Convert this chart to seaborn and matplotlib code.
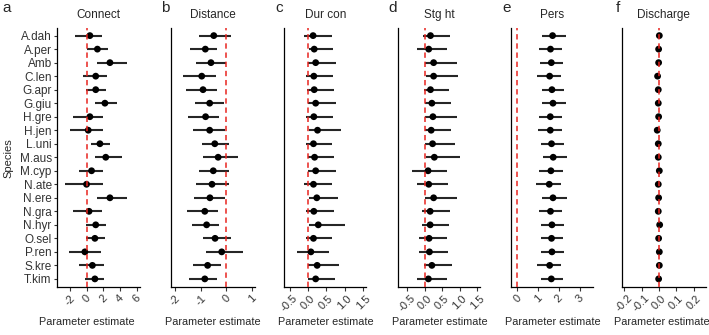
import numpy as np
import pandas as pd
import matplotlib.pyplot as plt
import seaborn as sns

species = ['A.dah', 'A.per', 'Amb', 'C.len', 'G.apr', 'G.giu', 'H.gre', 'H.jen', 'L.uni', 'M.aus',
           'M.cyp', 'N.ate', 'N.ere', 'N.gra', 'N.hyr', 'O.sel', 'P.ren', 'S.kre', 'T.kim']

# estimates and interval ends
connect_est = [0.4, 1.3, 2.8, 1.1, 1.1, 2.2, 0.4, 0.2, 1.6, 2.3, 0.6, 0.0, 2.8, 0.3, 1.1, 1.0, -0.2, 0.7, 1.0]
connect_lo = [-1.4, 0.0, 1.2, -0.4, -0.1, 1.0, -1.6, -2.0, 0.5, 1.0, -0.9, -2.6, 1.2, -1.6, -0.1, -0.1, -2.1, -0.9, -0.2]
connect_hi = [1.9, 2.6, 4.8, 2.4, 2.3, 3.7, 2.0, 2.0, 2.8, 4.2, 2.0, 2.0, 4.8, 1.9, 2.3, 2.2, 1.7, 2.1, 2.1]

distance_est = [-0.49, -0.82, -0.6, -0.96, -0.91, -0.65, -0.81, -0.65, -0.45, -0.32, -0.51, -0.56, -0.64, -0.84, -0.77, -0.44, -0.18, -0.73, -0.84]
distance_lo = [-1.05, -1.42, -1.18, -1.71, -1.58, -1.22, -1.51, -1.29, -0.94, -0.92, -1.06, -1.17, -1.25, -1.55, -1.35, -0.92, -0.79, -1.32, -1.44]
distance_hi = [0.17, -0.35, 0.0, -0.42, -0.38, -0.09, -0.27, -0.06, 0.12, 0.44, 0.12, 0.12, -0.05, -0.32, -0.29, 0.17, 0.64, -0.22, -0.36]

durcon_est = [0.14, 0.17, 0.21, 0.16, 0.17, 0.21, 0.16, 0.26, 0.15, 0.18, 0.21, 0.15, 0.24, 0.16, 0.28, 0.15, 0.08, 0.25, 0.21]
durcon_lo = [-0.12, 0.02, 0.0, -0.05, -0.02, 0.0, -0.06, 0.02, -0.05, 0.0, 0.0, -0.11, 0.02, -0.04, 0.02, -0.05, -0.3, 0.0, 0.0]
durcon_hi = [0.64, 0.68, 0.75, 0.68, 0.7, 0.75, 0.68, 0.91, 0.64, 0.71, 0.75, 0.64, 0.82, 0.71, 1.0, 0.66, 0.57, 0.85, 0.73]

stght_est = [0.16, 0.11, 0.25, 0.25, 0.16, 0.2, 0.23, 0.18, 0.22, 0.27, 0.09, 0.11, 0.25, 0.15, 0.15, 0.12, 0.13, 0.2, 0.1]
stght_lo = [-0.05, -0.22, 0.0, 0.02, -0.02, 0.0, 0.0, 0.0, 0.0, 0.03, -0.36, -0.24, 0.0, -0.09, -0.07, -0.16, -0.17, -0.02, -0.24]
stght_hi = [0.72, 0.62, 0.93, 0.95, 0.7, 0.76, 0.91, 0.76, 0.87, 1.0, 0.62, 0.67, 0.93, 0.72, 0.69, 0.64, 0.67, 0.79, 0.62]

pers_est = [1.7, 1.6, 1.64, 1.56, 1.67, 1.72, 1.59, 1.59, 1.65, 1.73, 1.62, 1.54, 1.72, 1.6, 1.67, 1.65, 1.67, 1.56, 1.64]
pers_lo = [1.17, 1.06, 1.11, 0.96, 1.17, 1.2, 1.03, 1.01, 1.14, 1.22, 1.06, 0.91, 1.2, 1.06, 1.14, 1.14, 1.14, 0.95, 1.12]
pers_hi = [2.33, 2.13, 2.2, 2.1, 2.25, 2.33, 2.17, 2.15, 2.25, 2.38, 2.18, 2.1, 2.38, 2.17, 2.25, 2.22, 2.25, 2.09, 2.2]

discharge_est = [0.002, -0.002, -0.002, -0.008, -0.004, -0.004, -0.002, -0.01, -0.004, -0.004, 0.002, -0.004, -0.002, -0.004, 0.004, -0.002, 0.002, 0.002, -0.002]
discharge_lo = [-0.004, -0.008, -0.008, -0.014, -0.01, -0.01, -0.008, -0.016, -0.01, -0.01, -0.004, -0.01, -0.008, -0.01, -0.002, -0.008, -0.004, -0.004, -0.008]
discharge_hi = [0.008, 0.004, 0.004, -0.002, 0.002, 0.002, 0.004, -0.004, 0.002, 0.002, 0.008, 0.002, 0.004, 0.002, 0.01, 0.004, 0.008, 0.008, 0.004]

letters = ['a', 'b', 'c', 'd', 'e', 'f']
titles = ['Connect', 'Distance', 'Dur con', 'Stg ht', 'Pers', 'Discharge']
ests = [connect_est, distance_est, durcon_est, stght_est, pers_est, discharge_est]
los = [connect_lo, distance_lo, durcon_lo, stght_lo, pers_lo, discharge_lo]
his = [connect_hi, distance_hi, durcon_hi, stght_hi, pers_hi, discharge_hi]
xlims = [(-3.5, 6.4), (-2.16, 1.1), (-0.65, 1.59), (-0.78, 1.58), (-0.3, 3.66), (-0.214, 0.27)]
xticks = [[-2, 0, 2, 4, 6], [-2, -1, 0, 1], [-0.5, 0, 0.5, 1, 1.5], [-0.5, 0, 0.5, 1, 1.5],
          [0, 1, 2, 3], [-0.2, -0.1, 0, 0.1, 0.2]]
xticklabels = [['-2', '0', '2', '4', '6'], ['-2', '-1', '0', '1'],
               ['-0.5', '0.0', '0.5', '1.0', '1.5'], ['-0.5', '0.0', '0.5', '1.0', '1.5'],
               ['0', '1', '2', '3'], ['-0.2', '-0.1', '0.0', '0.1', '0.2']]

sns.set_theme(style='ticks')
plt.rcParams['font.family'] = ['Liberation Sans', 'DejaVu Sans']

W, H = 709, 335
fig = plt.figure(figsize=(W / 100, H / 100), dpi=100)

# panel pixel extents (left spine, right end)
px = [(57.3, 140), (171, 254.5), (284, 366.5), (397.7, 480), (511, 593.3), (621.7, 706)]
top, bot = 27.5, 287
label_x = [7, 165, 279, 393, 507, 618]
xlab_x = [87, 213, 326, 440, 553, 662]

for i in range(6):
    l, r = px[i]
    ax = fig.add_axes([l / W, (H - bot) / H, (r - l) / W, (bot - top) / H])
    df = pd.DataFrame({'species': species, 'est': ests[i], 'lo': los[i], 'hi': his[i]})
    ax.hlines(df['species'], df['lo'], df['hi'], color='#262626', lw=1.5, zorder=2)
    sns.scatterplot(data=df, x='est', y='species', ax=ax, color='black', s=24,
                    edgecolor='none', zorder=3, legend=False)
    ax.axvline(0, color='#e8241f', ls=(0, (3.5, 2.5)), lw=1.1, zorder=4)
    ax.set_xlim(*xlims[i])
    ax.set_ylim(len(species) - 0.4, -0.6)
    ax.set_xticks(xticks[i])
    ax.set_xticklabels(xticklabels[i], rotation=45, ha='center', va='top')
    ax.tick_params(axis='x', labelsize=8, colors='#333333', length=3, width=0.8, pad=1.5)
    ax.set_xlabel('')
    for sp in ['top', 'right']:
        ax.spines[sp].set_visible(False)
    for sp in ['left', 'bottom']:
        ax.spines[sp].set_color('black')
        ax.spines[sp].set_linewidth(0.9)
    if i == 0:
        ax.tick_params(axis='y', labelsize=8.5, colors='#333333', length=2.5, width=0.8, pad=1.5)
        ax.set_ylabel('')
    else:
        ax.set_yticks([])
        ax.set_ylabel('')
    fig.text((l + r) / 2 / W, 1 - 15 / H, titles[i], ha='center', va='center', fontsize=8.5)
    fig.text(label_x[i] / W, 1 - 8 / H, letters[i], ha='center', va='center', fontsize=11)
    fig.text(xlab_x[i] / W, 1 - 322 / H, 'Parameter estimate', ha='center', va='center', fontsize=7.8)

fig.text(8 / W, 1 - 158 / H, 'Species', rotation=90, ha='center', va='center', fontsize=8)

fig.savefig('out.png', dpi=100, facecolor='white')
